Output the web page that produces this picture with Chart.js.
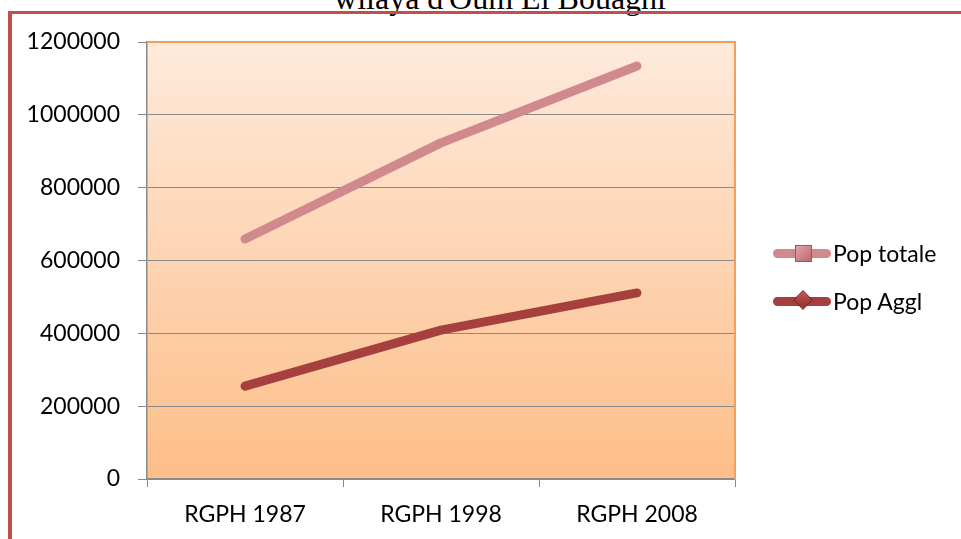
<!DOCTYPE html>
<html>
<head>
<meta charset="utf-8">
<script src="https://cdn.jsdelivr.net/npm/chart.js@4/dist/chart.umd.min.js"></script>
<style>
  html, body { margin: 0; padding: 0; background: #fff; overflow: hidden; }
  #wrap { position: relative; width: 961px; height: 539px; overflow: hidden; }
  #title { position: absolute; left: 0; width: 1000px; top: -18px; text-align: center;
           font-family: "Liberation Serif", "DejaVu Serif", serif; font-size: 32px; line-height: 32px; color: #000; }
  #frame { position: absolute; left: 8px; top: 11px; width: 980px; height: 560px;
           border-top: 3px solid #C0504D; border-left: 4px solid #C0504D; box-shadow: 0 1px 0 #E8A8A6; }
  #chart { position: absolute; left: 0; top: 0; }
  .leg { position: absolute; left: 773px; height: 30px; width: 190px; font-family: Lato, "Noto Sans", sans-serif; font-size: 23px; color: #000; }
  .leg .ln { position: absolute; left: 0; top: 11px; width: 58px; height: 9px; border-radius: 5px; }
  .leg .mk { position: absolute; }
  .leg span { position: absolute; left: 60px; top: 0; line-height: 30px; white-space: nowrap; }
</style>
</head>
<body>
<div id="wrap">
  <div id="title">wilaya d'Oum El Bouaghi</div>
  <div id="frame"></div>
  <canvas id="chart" width="961" height="539"></canvas>
  <div class="leg" style="top:238px">
    <div class="ln" style="background:#D0898C"></div>
    <div class="mk" style="left:22px;top:7px;width:15px;height:15px;background:linear-gradient(135deg,#E6A3A5,#B86A6E);border:1px solid #9C5558"></div>
    <span>Pop totale</span>
  </div>
  <div class="leg" style="top:286px">
    <div class="ln" style="background:#A6403E"></div>
    <div class="mk" style="left:23px;top:7px;width:12px;height:12px;transform:rotate(45deg);background:linear-gradient(135deg,#C65450,#8E2F2D);border:1px solid #7E2826"></div>
    <span>Pop Aggl</span>
  </div>
</div>
<script>
// categories and values
const categories = ["RGPH 1987", "RGPH 1998", "RGPH 2008"];
const popTotale = [659000, 923000, 1134000];
const popAggl = [255000, 409000, 511000];
const yTicks = [0, 200000, 400000, 600000, 800000, 1000000, 1200000];

const fontFam = 'Lato, "Noto Sans", sans-serif';

// fond dégradé de la zone de tracé + bordure orange haut/droite
const plotBg = {
  id: 'plotBg',
  beforeDraw(chart) {
    const { ctx, chartArea: a } = chart;
    const g = ctx.createLinearGradient(0, a.top, 0, a.bottom);
    g.addColorStop(0, '#FEEADC');
    g.addColorStop(1, '#FDBE88');
    ctx.save();
    ctx.fillStyle = g;
    ctx.fillRect(a.left, a.top, a.right - a.left, a.bottom - a.top);
    ctx.restore();
  },
  beforeDatasetsDraw(chart) {
    const { ctx, chartArea: a } = chart;
    ctx.save();
    ctx.strokeStyle = '#F5A05A';
    ctx.lineWidth = 2;
    ctx.beginPath();
    ctx.moveTo(a.left, a.top);
    ctx.lineTo(a.right, a.top);
    ctx.lineTo(a.right, a.bottom);
    ctx.stroke();
    ctx.restore();
  }
};

new Chart(document.getElementById('chart'), {
  type: 'line',
  data: {
    labels: categories,
    datasets: [
      { label: 'Pop totale', data: popTotale, borderColor: '#D0898C', borderWidth: 9,
        borderCapStyle: 'round', borderJoinStyle: 'round', pointRadius: 0, tension: 0 },
      { label: 'Pop Aggl', data: popAggl, borderColor: '#A6403E', borderWidth: 9,
        borderCapStyle: 'round', borderJoinStyle: 'round', pointRadius: 0, tension: 0 }
    ]
  },
  options: {
    responsive: false,
    animation: false,
    layout: { padding: { left: 0, right: 226, top: 42, bottom: 0 } },
    scales: {
      x: {
        offset: true,
        grid: { offset: true, drawOnChartArea: false, drawTicks: true, tickLength: 8, color: '#8A8A8A' },
        border: { color: '#8A8A8A', width: 1.5 },
        ticks: { color: '#000', font: { family: fontFam, size: 23 }, padding: 14, maxRotation: 0 },
        afterFit: s => { s.height = 60; }
      },
      y: {
        min: 0, max: 1200000,
        afterBuildTicks: s => { s.ticks = yTicks.map(v => ({ value: v })); },
        grid: { color: '#8A8A8A', tickLength: 9 },
        border: { color: '#8A8A8A', width: 1.5 },
        ticks: { color: '#000', font: { family: fontFam, size: 23 }, padding: 18, callback: v => String(v) },
        afterFit: s => { s.width = 147; }
      }
    },
    plugins: { legend: { display: false }, tooltip: { enabled: false } }
  },
  plugins: [plotBg]
});
</script>
</body>
</html>
